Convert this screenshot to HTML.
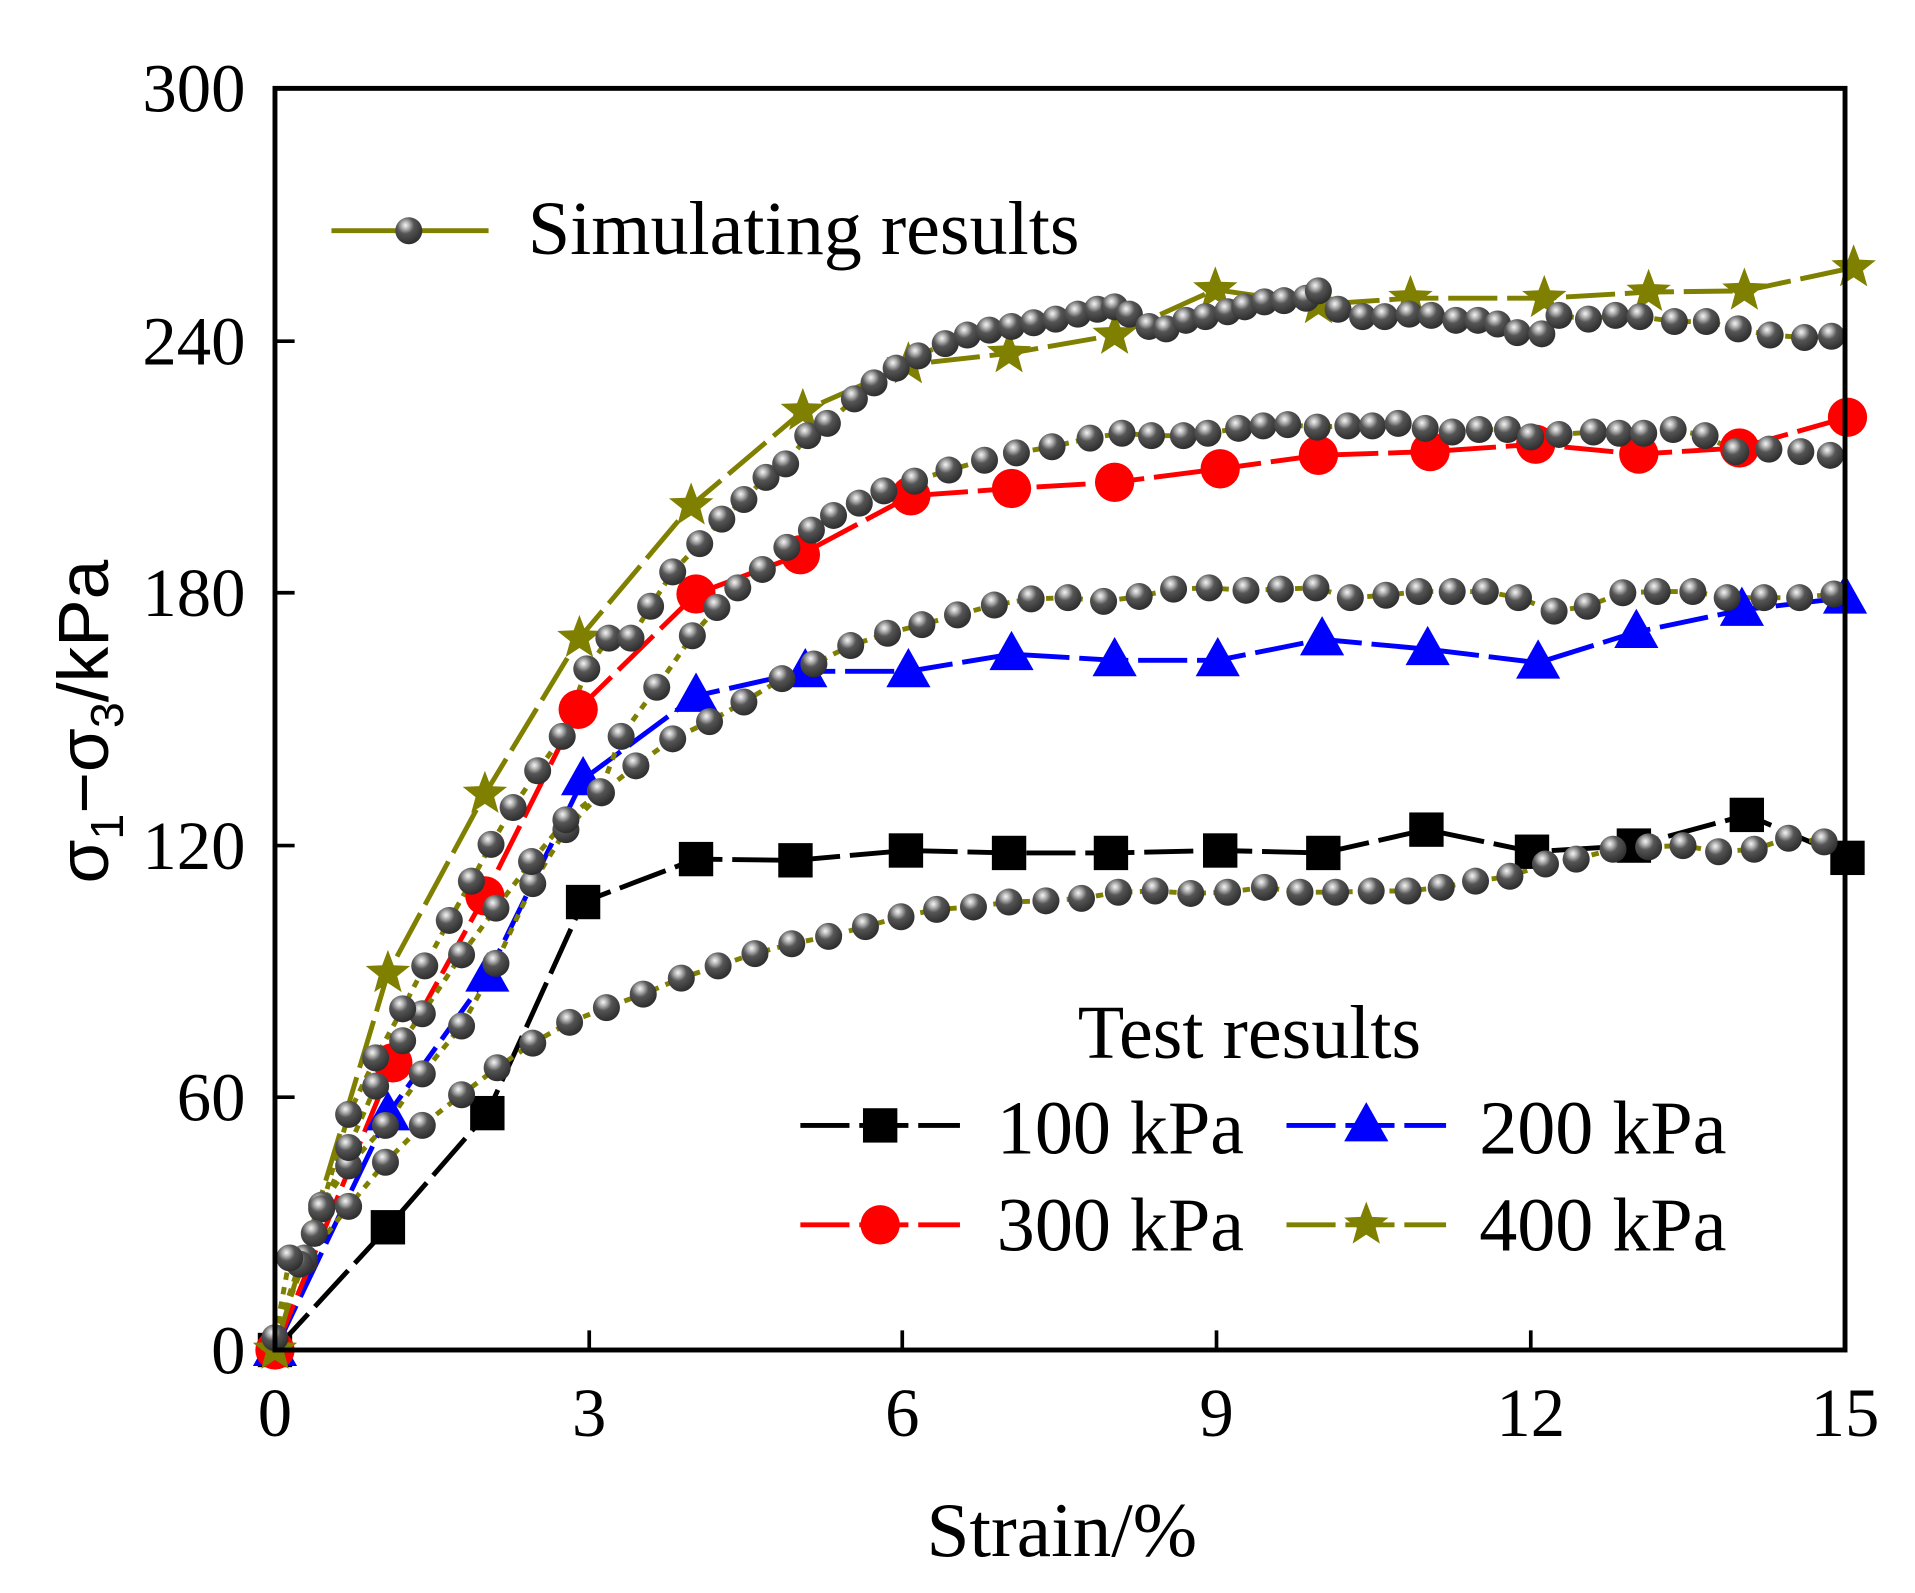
<!DOCTYPE html>
<html><head><meta charset="utf-8"><style>html,body{margin:0;padding:0;background:#fff}svg{display:block}</style></head>
<body>
<svg width="1915" height="1593" viewBox="0 0 1560 1298" preserveAspectRatio="none" xmlns="http://www.w3.org/2000/svg" xmlns:xlink="http://www.w3.org/1999/xlink">
<defs>
<radialGradient id="bg" cx="0.38" cy="0.3" r="0.7">
<stop offset="0" stop-color="#f4f4f4"/><stop offset="0.18" stop-color="#bbb"/><stop offset="0.45" stop-color="#555"/><stop offset="1" stop-color="#2e2e2e"/>
</radialGradient>
<circle id="b" cx="0" cy="0" r="11" fill="url(#bg)"/>
<rect id="q" x="-14" y="-14" width="28" height="28" fill="#000"/>
<polygon id="t" points="0,-19 -18,13 18,13" fill="#0000ff"/>
<circle id="c" cx="0" cy="0" r="16" fill="#ff0000"/>
<path id="s" d="M0,-19 L4.7,-6.47 18.07,-5.87 7.61,2.47 11.17,15.37 0,8 -11.17,15.37 -7.61,2.47 -18.07,-5.87 -4.7,-6.47Z" fill="#7f7f00"/>
</defs>
<rect width="1560" height="1298" fill="#fff"/>

<g fill="none" stroke-width="4">
<polyline stroke="#000" stroke-dasharray="40 8" points="224,1100 316,1000 397,907 475,735 567,700 648,701 738,693 822,695 905,695 994,693 1078,695 1162,676 1248,694 1331,689 1423,664 1505,699"/>
<polyline stroke="#0000ff" stroke-dasharray="40 8" points="224,1100 316,908 397,795 475,635 567,567 656,547 740,547 824,533 908,538 992,538 1077,521 1163,529 1253,540 1333,515 1419,497 1503,487"/>
<polyline stroke="#ff0000" stroke-dasharray="40 8" points="224,1100 320,866 395,730 471,578 567,484 652,452 742,404 824,398 908,393 994,382 1074,371 1165,368 1251,362 1335,370 1417,365 1505,340"/>
<polyline stroke="#7f7f00" stroke-dasharray="40 8" points="224,1100 316,793 395,647 472,520 563,412 654,335 740,297 822,288 908,273 990,236 1074,248 1149,243 1258,243 1343,238 1421,237 1510,218"/>
<g stroke="#7f7f00" stroke-dasharray="6 6">
<polyline points="224,1090 248,1028 284,983 314,947 344,917 376,892 405,870 434,850 464,833 494,821 524,810 555,797 585,787 615,777 645,769 675,763 705,755 734,747 763,741 793,739 822,735 852,734 881,732 911,727 941,726 970,728 1000,727 1030,723 1059,727 1088,727 1117,726 1147,726 1174,723 1202,718 1230,714 1259,704 1284,700 1314,692 1343,690 1371,689 1400,694 1429,692 1457,683 1486,686"/>
<polyline points="224,1090 248,1025 262,982 284,950 314,917 344,875 376,836 404,785 434,720 461,676 490,646 518,624 548,602 578,588 606,572 637,553 663,541 693,526 723,516 751,509 780,501 810,493 840,488 870,487 899,490 928,486 956,480 985,479 1015,481 1043,480 1072,479 1100,487 1129,485 1156,482 1183,482 1210,482 1237,487 1266,498 1293,494 1322,483 1350,482 1379,482 1407,487 1437,487 1466,487 1494,484"/>
<polyline points="224,1090 244,1030 262,985 284,935 306,885 328,848 344,826 376,778 404,740 433,702 461,668 489,645 506,600 535,560 564,518 584,495 601,479 621,464 641,446 661,432 679,420 700,410 720,400 745,392 773,383 802,375 828,369 857,364 888,357 914,353 938,355 964,355 984,353 1009,349 1029,347 1049,346 1073,348 1098,347 1118,347 1139,345 1161,349 1183,352 1205,350 1228,350 1247,356 1270,354 1298,352 1319,353 1339,353 1363,350 1389,355 1414,368 1441,366 1467,368 1491,371"/>
<polyline points="224,1090 236,1025 256,1005 284,908 306,862 328,822 346,787 366,750 384,718 400,688 418,658 438,628 458,600 478,545 496,520 514,520 530,494 548,466 570,443 588,423 606,407 624,389 640,378 658,355 674,345 696,325 712,312 730,300 748,290 770,280 788,273 806,269 824,266 842,263 860,260 878,256 894,252 908,250 920,256 936,266 950,268 966,261 982,258 1000,254 1014,250 1030,246 1046,245 1064,243 1074,237 1090,252 1110,258 1128,258 1148,256 1166,257 1186,261 1204,261 1220,264 1236,271 1256,272 1270,257 1294,260 1316,257 1336,258 1364,262 1390,262 1416,268 1442,273 1470,275 1492,274"/>
</g>
</g>

<g>
<use href="#q" x="224" y="1100"/><use href="#q" x="316" y="1000"/><use href="#q" x="397" y="907"/><use href="#q" x="475" y="735"/><use href="#q" x="567" y="700"/><use href="#q" x="648" y="701"/><use href="#q" x="738" y="693"/><use href="#q" x="822" y="695"/><use href="#q" x="905" y="695"/><use href="#q" x="994" y="693"/><use href="#q" x="1078" y="695"/><use href="#q" x="1162" y="676"/><use href="#q" x="1248" y="694"/><use href="#q" x="1331" y="689"/><use href="#q" x="1423" y="664"/><use href="#q" x="1505" y="699"/>
<use href="#t" x="224" y="1100"/><use href="#t" x="316" y="908"/><use href="#t" x="397" y="795"/><use href="#t" x="475" y="635"/><use href="#t" x="567" y="567"/><use href="#t" x="656" y="547"/><use href="#t" x="740" y="547"/><use href="#t" x="824" y="533"/><use href="#t" x="908" y="538"/><use href="#t" x="992" y="538"/><use href="#t" x="1077" y="521"/><use href="#t" x="1163" y="529"/><use href="#t" x="1253" y="540"/><use href="#t" x="1333" y="515"/><use href="#t" x="1419" y="497"/><use href="#t" x="1503" y="487"/>
<use href="#c" x="224" y="1100"/><use href="#c" x="320" y="866"/><use href="#c" x="395" y="730"/><use href="#c" x="471" y="578"/><use href="#c" x="567" y="484"/><use href="#c" x="652" y="452"/><use href="#c" x="742" y="404"/><use href="#c" x="824" y="398"/><use href="#c" x="908" y="393"/><use href="#c" x="994" y="382"/><use href="#c" x="1074" y="371"/><use href="#c" x="1165" y="368"/><use href="#c" x="1251" y="362"/><use href="#c" x="1335" y="370"/><use href="#c" x="1417" y="365"/><use href="#c" x="1505" y="340"/>
<use href="#s" x="224" y="1100"/><use href="#s" x="316" y="793"/><use href="#s" x="395" y="647"/><use href="#s" x="472" y="520"/><use href="#s" x="563" y="412"/><use href="#s" x="654" y="335"/><use href="#s" x="740" y="297"/><use href="#s" x="822" y="288"/><use href="#s" x="908" y="273"/><use href="#s" x="990" y="236"/><use href="#s" x="1074" y="248"/><use href="#s" x="1149" y="243"/><use href="#s" x="1258" y="243"/><use href="#s" x="1343" y="238"/><use href="#s" x="1421" y="237"/><use href="#s" x="1510" y="218"/>
</g>

<g>
<use href="#b" x="224" y="1090"/><use href="#b" x="248" y="1028"/><use href="#b" x="284" y="983"/><use href="#b" x="314" y="947"/><use href="#b" x="344" y="917"/><use href="#b" x="376" y="892"/><use href="#b" x="405" y="870"/><use href="#b" x="434" y="850"/><use href="#b" x="464" y="833"/><use href="#b" x="494" y="821"/><use href="#b" x="524" y="810"/><use href="#b" x="555" y="797"/><use href="#b" x="585" y="787"/><use href="#b" x="615" y="777"/><use href="#b" x="645" y="769"/><use href="#b" x="675" y="763"/><use href="#b" x="705" y="755"/><use href="#b" x="734" y="747"/><use href="#b" x="763" y="741"/><use href="#b" x="793" y="739"/><use href="#b" x="822" y="735"/><use href="#b" x="852" y="734"/><use href="#b" x="881" y="732"/><use href="#b" x="911" y="727"/><use href="#b" x="941" y="726"/><use href="#b" x="970" y="728"/><use href="#b" x="1000" y="727"/><use href="#b" x="1030" y="723"/><use href="#b" x="1059" y="727"/><use href="#b" x="1088" y="727"/><use href="#b" x="1117" y="726"/><use href="#b" x="1147" y="726"/><use href="#b" x="1174" y="723"/><use href="#b" x="1202" y="718"/><use href="#b" x="1230" y="714"/><use href="#b" x="1259" y="704"/><use href="#b" x="1284" y="700"/><use href="#b" x="1314" y="692"/><use href="#b" x="1343" y="690"/><use href="#b" x="1371" y="689"/><use href="#b" x="1400" y="694"/><use href="#b" x="1429" y="692"/><use href="#b" x="1457" y="683"/><use href="#b" x="1486" y="686"/>
<use href="#b" x="248" y="1025"/><use href="#b" x="262" y="982"/><use href="#b" x="284" y="950"/><use href="#b" x="314" y="917"/><use href="#b" x="344" y="875"/><use href="#b" x="376" y="836"/><use href="#b" x="404" y="785"/><use href="#b" x="434" y="720"/><use href="#b" x="461" y="676"/><use href="#b" x="490" y="646"/><use href="#b" x="518" y="624"/><use href="#b" x="548" y="602"/><use href="#b" x="578" y="588"/><use href="#b" x="606" y="572"/><use href="#b" x="637" y="553"/><use href="#b" x="663" y="541"/><use href="#b" x="693" y="526"/><use href="#b" x="723" y="516"/><use href="#b" x="751" y="509"/><use href="#b" x="780" y="501"/><use href="#b" x="810" y="493"/><use href="#b" x="840" y="488"/><use href="#b" x="870" y="487"/><use href="#b" x="899" y="490"/><use href="#b" x="928" y="486"/><use href="#b" x="956" y="480"/><use href="#b" x="985" y="479"/><use href="#b" x="1015" y="481"/><use href="#b" x="1043" y="480"/><use href="#b" x="1072" y="479"/><use href="#b" x="1100" y="487"/><use href="#b" x="1129" y="485"/><use href="#b" x="1156" y="482"/><use href="#b" x="1183" y="482"/><use href="#b" x="1210" y="482"/><use href="#b" x="1237" y="487"/><use href="#b" x="1266" y="498"/><use href="#b" x="1293" y="494"/><use href="#b" x="1322" y="483"/><use href="#b" x="1350" y="482"/><use href="#b" x="1379" y="482"/><use href="#b" x="1407" y="487"/><use href="#b" x="1437" y="487"/><use href="#b" x="1466" y="487"/><use href="#b" x="1494" y="484"/>
<use href="#b" x="244" y="1030"/><use href="#b" x="262" y="985"/><use href="#b" x="284" y="935"/><use href="#b" x="306" y="885"/><use href="#b" x="328" y="848"/><use href="#b" x="344" y="826"/><use href="#b" x="376" y="778"/><use href="#b" x="404" y="740"/><use href="#b" x="433" y="702"/><use href="#b" x="461" y="668"/><use href="#b" x="489" y="645"/><use href="#b" x="506" y="600"/><use href="#b" x="535" y="560"/><use href="#b" x="564" y="518"/><use href="#b" x="584" y="495"/><use href="#b" x="601" y="479"/><use href="#b" x="621" y="464"/><use href="#b" x="641" y="446"/><use href="#b" x="661" y="432"/><use href="#b" x="679" y="420"/><use href="#b" x="700" y="410"/><use href="#b" x="720" y="400"/><use href="#b" x="745" y="392"/><use href="#b" x="773" y="383"/><use href="#b" x="802" y="375"/><use href="#b" x="828" y="369"/><use href="#b" x="857" y="364"/><use href="#b" x="888" y="357"/><use href="#b" x="914" y="353"/><use href="#b" x="938" y="355"/><use href="#b" x="964" y="355"/><use href="#b" x="984" y="353"/><use href="#b" x="1009" y="349"/><use href="#b" x="1029" y="347"/><use href="#b" x="1049" y="346"/><use href="#b" x="1073" y="348"/><use href="#b" x="1098" y="347"/><use href="#b" x="1118" y="347"/><use href="#b" x="1139" y="345"/><use href="#b" x="1161" y="349"/><use href="#b" x="1183" y="352"/><use href="#b" x="1205" y="350"/><use href="#b" x="1228" y="350"/><use href="#b" x="1247" y="356"/><use href="#b" x="1270" y="354"/><use href="#b" x="1298" y="352"/><use href="#b" x="1319" y="353"/><use href="#b" x="1339" y="353"/><use href="#b" x="1363" y="350"/><use href="#b" x="1389" y="355"/><use href="#b" x="1414" y="368"/><use href="#b" x="1441" y="366"/><use href="#b" x="1467" y="368"/><use href="#b" x="1491" y="371"/>
<use href="#b" x="236" y="1025"/><use href="#b" x="256" y="1005"/><use href="#b" x="284" y="908"/><use href="#b" x="306" y="862"/><use href="#b" x="328" y="822"/><use href="#b" x="346" y="787"/><use href="#b" x="366" y="750"/><use href="#b" x="384" y="718"/><use href="#b" x="400" y="688"/><use href="#b" x="418" y="658"/><use href="#b" x="438" y="628"/><use href="#b" x="458" y="600"/><use href="#b" x="478" y="545"/><use href="#b" x="496" y="520"/><use href="#b" x="514" y="520"/><use href="#b" x="530" y="494"/><use href="#b" x="548" y="466"/><use href="#b" x="570" y="443"/><use href="#b" x="588" y="423"/><use href="#b" x="606" y="407"/><use href="#b" x="624" y="389"/><use href="#b" x="640" y="378"/><use href="#b" x="658" y="355"/><use href="#b" x="674" y="345"/><use href="#b" x="696" y="325"/><use href="#b" x="712" y="312"/><use href="#b" x="730" y="300"/><use href="#b" x="748" y="290"/><use href="#b" x="770" y="280"/><use href="#b" x="788" y="273"/><use href="#b" x="806" y="269"/><use href="#b" x="824" y="266"/><use href="#b" x="842" y="263"/><use href="#b" x="860" y="260"/><use href="#b" x="878" y="256"/><use href="#b" x="894" y="252"/><use href="#b" x="908" y="250"/><use href="#b" x="920" y="256"/><use href="#b" x="936" y="266"/><use href="#b" x="950" y="268"/><use href="#b" x="966" y="261"/><use href="#b" x="982" y="258"/><use href="#b" x="1000" y="254"/><use href="#b" x="1014" y="250"/><use href="#b" x="1030" y="246"/><use href="#b" x="1046" y="245"/><use href="#b" x="1064" y="243"/><use href="#b" x="1074" y="237"/><use href="#b" x="1090" y="252"/><use href="#b" x="1110" y="258"/><use href="#b" x="1128" y="258"/><use href="#b" x="1148" y="256"/><use href="#b" x="1166" y="257"/><use href="#b" x="1186" y="261"/><use href="#b" x="1204" y="261"/><use href="#b" x="1220" y="264"/><use href="#b" x="1236" y="271"/><use href="#b" x="1256" y="272"/><use href="#b" x="1270" y="257"/><use href="#b" x="1294" y="260"/><use href="#b" x="1316" y="257"/><use href="#b" x="1336" y="258"/><use href="#b" x="1364" y="262"/><use href="#b" x="1390" y="262"/><use href="#b" x="1416" y="268"/><use href="#b" x="1442" y="273"/><use href="#b" x="1470" y="275"/><use href="#b" x="1492" y="274"/>
</g>

<rect x="224" y="72" width="1279" height="1028" fill="none" stroke="#000" stroke-width="4"/>
<g stroke="#000" stroke-width="3">
<line x1="224" x2="240" y1="894" y2="894"/><line x1="224" x2="240" y1="689" y2="689"/><line x1="224" x2="240" y1="483" y2="483"/><line x1="224" x2="240" y1="278" y2="278"/>
<line x1="480" x2="480" y1="1100" y2="1084"/><line x1="735" x2="735" y1="1100" y2="1084"/><line x1="991" x2="991" y1="1100" y2="1084"/><line x1="1247" x2="1247" y1="1100" y2="1084"/>
</g>

<g font-family="Liberation Serif, serif" font-size="56" fill="#000">
<text x="200" y="1119" text-anchor="end">0</text>
<text x="200" y="913" text-anchor="end">60</text>
<text x="200" y="708" text-anchor="end">120</text>
<text x="200" y="502" text-anchor="end">180</text>
<text x="200" y="297" text-anchor="end">240</text>
<text x="200" y="91" text-anchor="end">300</text>
<text x="224" y="1170" text-anchor="middle">0</text>
<text x="480" y="1170" text-anchor="middle">3</text>
<text x="735" y="1170" text-anchor="middle">6</text>
<text x="991" y="1170" text-anchor="middle">9</text>
<text x="1247" y="1170" text-anchor="middle">12</text>
<text x="1503" y="1170" text-anchor="middle">15</text>
<text x="865" y="1268" text-anchor="middle" font-size="63">Strain/%</text>
<text x="430" y="207" font-size="62">Simulating results</text>
<text x="878" y="862" font-size="62">Test results</text>
<text x="812" y="940" font-size="62">100 kPa</text>
<text x="1205" y="940" font-size="62">200 kPa</text>
<text x="812" y="1019" font-size="62">300 kPa</text>
<text x="1205" y="1019" font-size="62">400 kPa</text>
</g>
<text transform="translate(88,588) rotate(-90)" text-anchor="middle" font-family="Liberation Sans, sans-serif" font-size="58">σ<tspan font-size="38" dy="12">1</tspan><tspan dy="-12">−σ</tspan><tspan font-size="38" dy="12">3</tspan><tspan dy="-12">/kPa</tspan></text>

<g fill="none" stroke-width="4">
<line x1="270" x2="398" y1="188" y2="188" stroke="#7f7f00"/>
<line x1="652" x2="782" y1="917" y2="917" stroke="#000" stroke-dasharray="40 8"/>
<line x1="1048" x2="1178" y1="917" y2="917" stroke="#0000ff" stroke-dasharray="40 8"/>
<line x1="652" x2="782" y1="998" y2="998" stroke="#ff0000" stroke-dasharray="40 8"/>
<line x1="1048" x2="1178" y1="998" y2="998" stroke="#7f7f00" stroke-dasharray="40 8"/>
</g>
<use href="#b" x="333" y="188"/>
<use href="#q" x="717" y="917"/>
<use href="#t" x="1113" y="917"/>
<use href="#c" x="717" y="998"/>
<use href="#s" x="1113" y="998"/>
</svg>
</body></html>
